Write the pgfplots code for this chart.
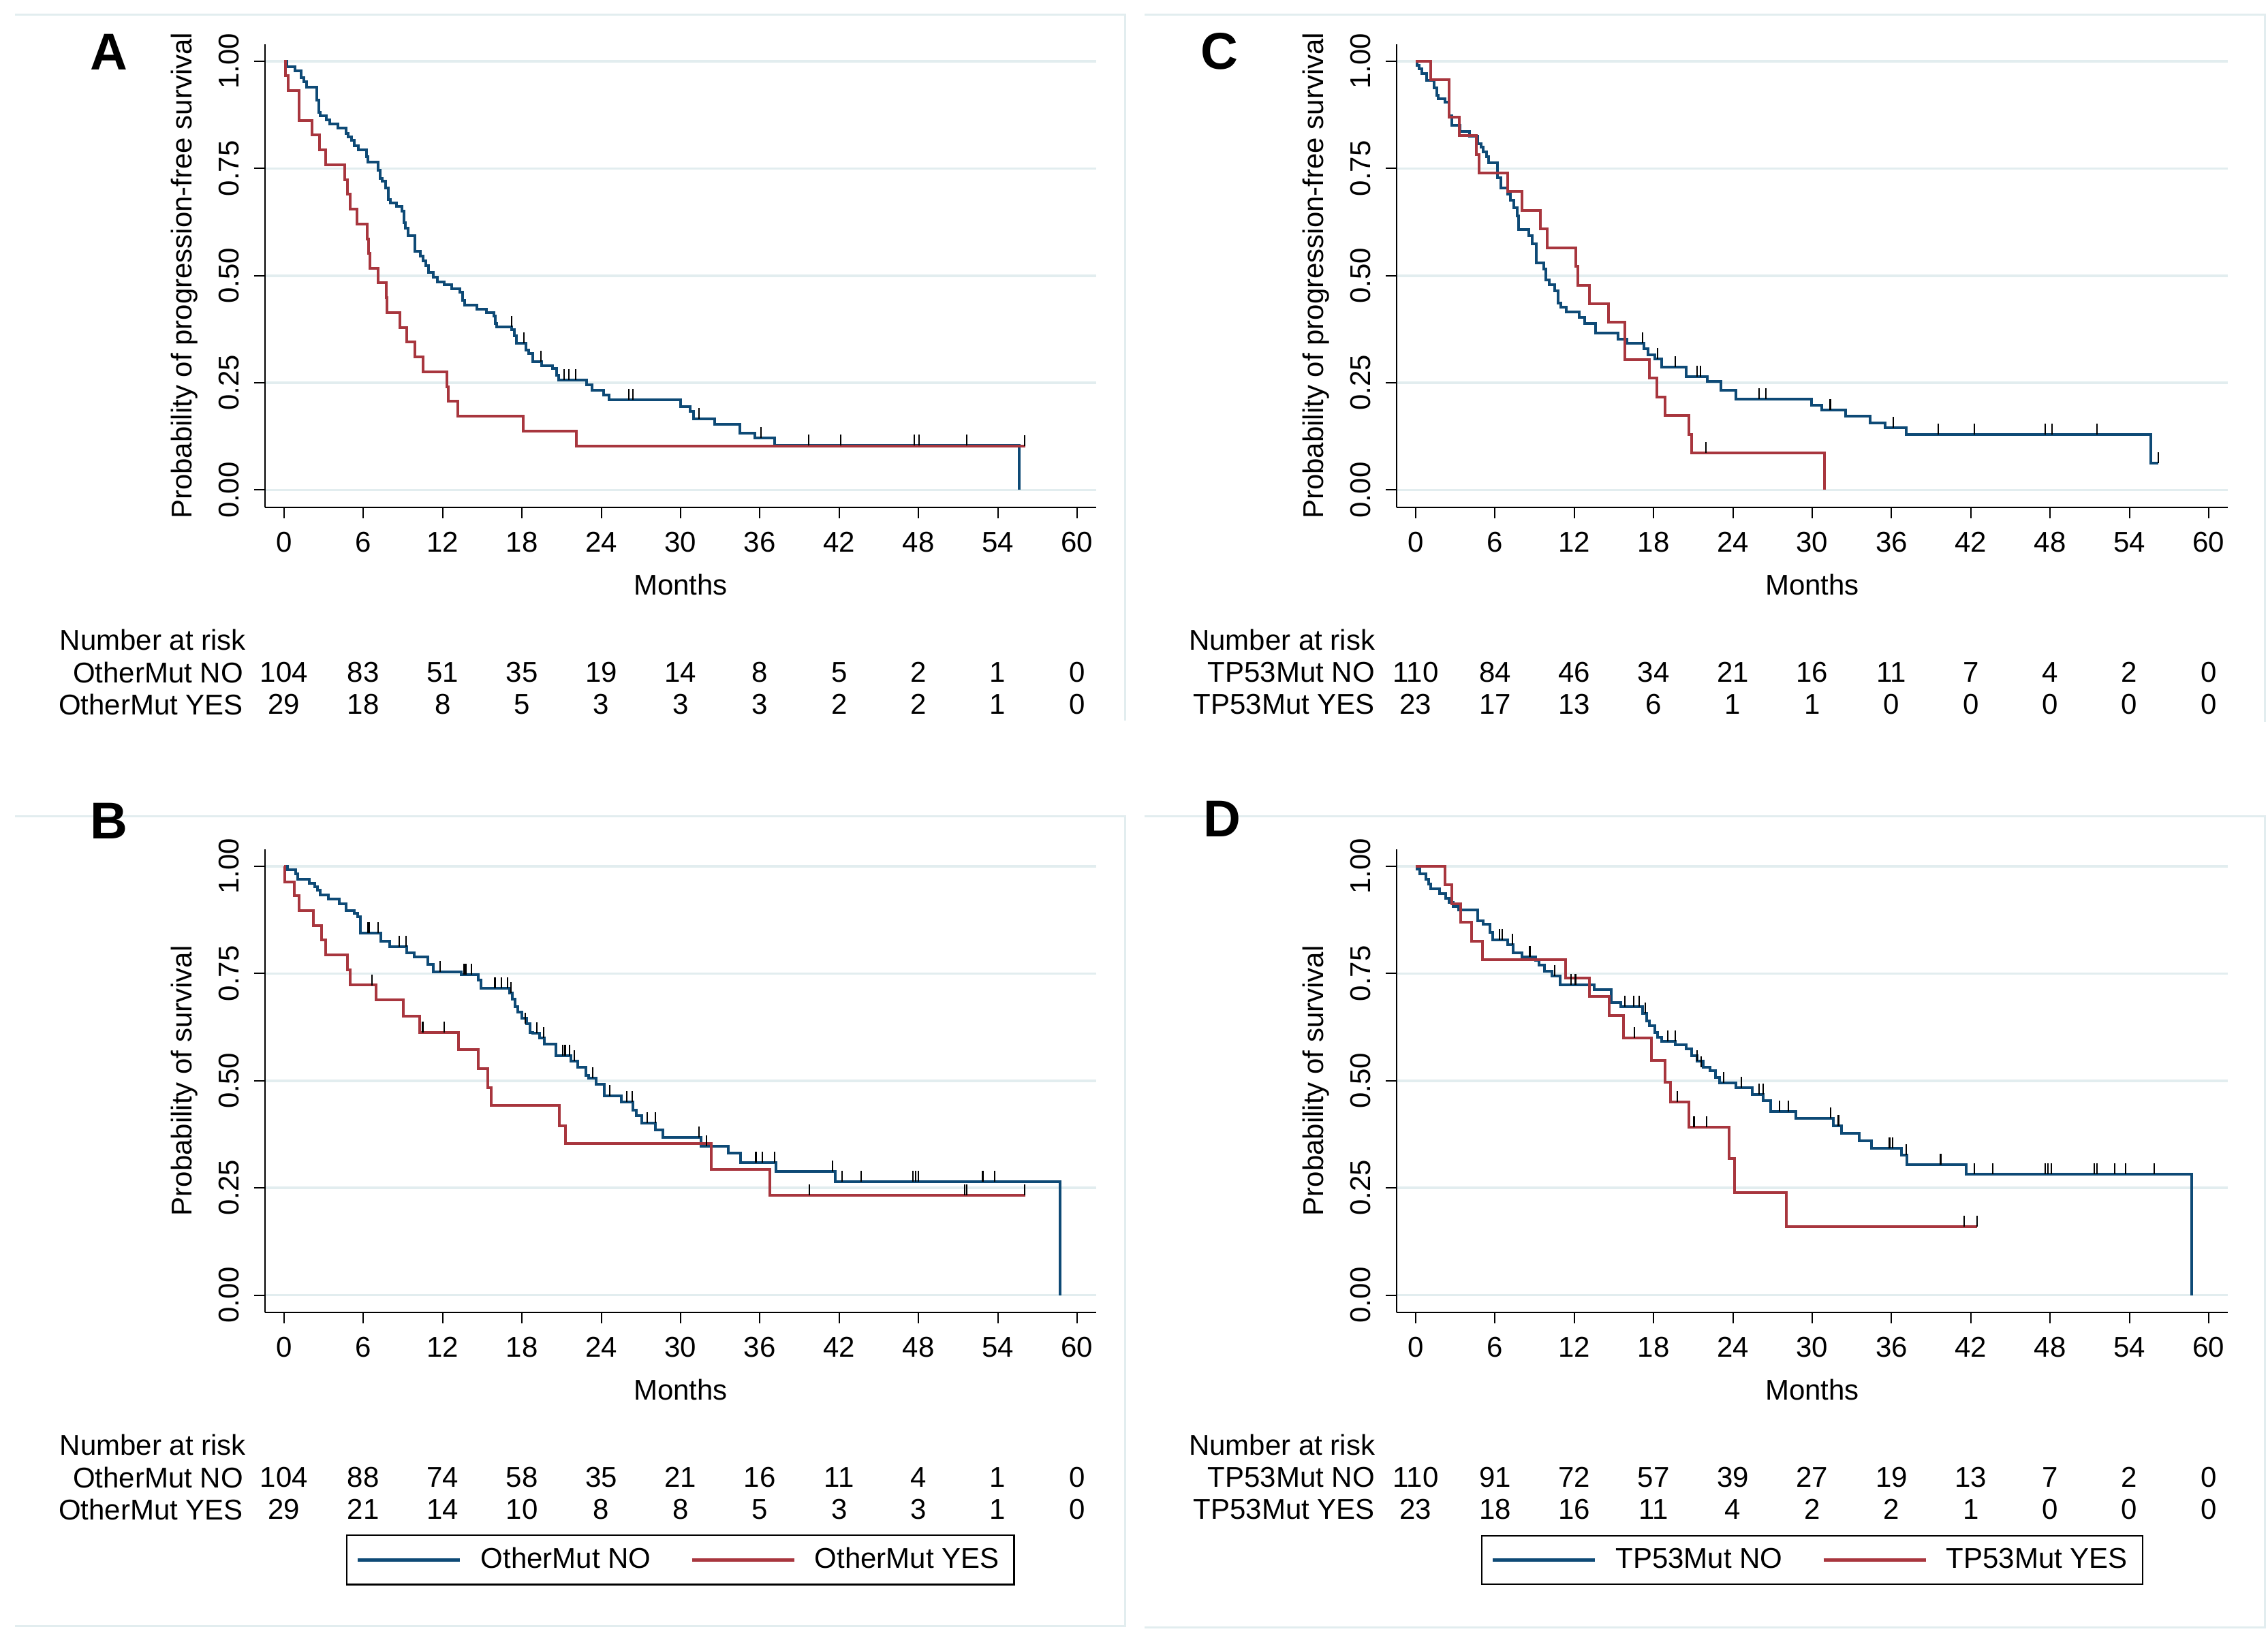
\documentclass[border=0pt]{standalone}
\usepackage{fontspec}
\setmainfont{Liberation Sans}
\usepackage{pgfplots}
\pgfplotsset{compat=1.18}

\definecolor{kmblue}{RGB}{14,74,118}
\definecolor{kmred}{RGB}{168,54,62}
\definecolor{gridc}{RGB}{226,237,239}

\newcommand\fz{\fontsize{10.5}{12.6}\selectfont}

% censoring tick: short vertical stroke going up from the curve
\pgfdeclareplotmark{cens}{%
  \pgfpathmoveto{\pgfpointorigin}%
  \pgfpathlineto{\pgfqpoint{0pt}{4pt}}%
  \pgfusepathqstroke}

\pgfplotsset{
  km/.style={
    scale only axis, width=304.97pt, height=169.97pt,
    anchor=south west,
    xmin=-1.44, xmax=61.44, ymin=-0.04, ymax=1.04,
    axis lines=left, axis line style={-, line width=0.55pt, black},
    xtick={0,6,12,18,24,30,36,42,48,54,60},
    xticklabels={0,6,12,18,24,30,36,42,48,54,60},
    ytick={0,0.25,0.5,0.75,1},
    yticklabels={0.00,0.25,0.50,0.75,1.00},
    tick align=outside, major tick length=4pt,
    tick style={black, line width=0.5pt},
    xticklabel style={font=\fz, anchor=north, yshift=-1.6pt},
    yticklabel style={font=\fz, xshift=-2.0pt, rotate=90, anchor=south},
    ymajorgrids, grid style={gridc, line width=0.9pt},
    every axis x label/.style={at={(axis description cs:0.5,0)}, yshift=-28.5pt, anchor=center, font=\fz},
    every axis y label/.style={at={(axis description cs:0,0.5)}, xshift=-29.6pt, rotate=90, anchor=center, font=\fz},
    xlabel={Months},
    clip=false,
    legend style={at={(0.5,-0.535)}, anchor=center, legend columns=2,
      draw=black, line width=0.6pt, font=\fz, inner xsep=3.5pt, inner ysep=2.5pt,
      /tikz/every odd column/.append style={column sep=5pt},
      /tikz/every even column/.append style={column sep=12.5pt}},
    legend image code/.code={\draw[#1, line width=1.1pt] (0pt,0pt) -- (37.5pt,0pt);},
  },
  blueline/.style={kmblue, line width=1pt, const plot},
  redline/.style={kmred, line width=1pt, const plot},
  cmark/.style={only marks, mark=cens, mark options={black, line width=0.55pt}, forget plot},
}

\newcommand\panel[1]{\node[font=\fontsize{19}{20}\selectfont\bfseries] at #1;}
% number at risk row: y, label, counts at 0,6,...,60
\newcommand\riskrow[3]{%
  \node[anchor=east, inner sep=0pt] at (axis cs:-3.05,#1) {#2};
  \foreach \v [count=\i from 0] in {#3} {%
    \edef\tmp{\noexpand\node at (axis cs:\the\numexpr6*\i\relax,#1) {\v};}\tmp}}

\begin{document}
\begin{tikzpicture}[font=\fz]
\useasboundingbox (0,0) rectangle (832.25pt,601.25pt);

% panel frames
\begin{scope}[gridc, line width=0.75pt]
\draw (5.5pt,595.75pt) -- (412.75pt,595.75pt) -- (412.75pt,336.75pt);
\draw (420pt,595.75pt) -- (831pt,595.75pt) -- (831pt,336.25pt);
\draw (5.5pt,301.5pt) -- (412.75pt,301.5pt) -- (412.75pt,4.25pt) -- (5.5pt,4.25pt);
\draw (420pt,301.5pt) -- (831pt,301.5pt) -- (831pt,3.75pt) -- (420pt,3.75pt);
\end{scope}

% ---------- A ----------
\begin{axis}[km, at={(97.25pt,415.075pt)}, ylabel={Probability of progression-free survival}]
\addplot[blueline] coordinates {
(0,1) (0.2,0.987) (0.83,0.977) (1.3,0.962) (1.5,0.953) (1.7,0.94) (2.5,0.909)
(2.65,0.881) (2.75,0.873) (3.2,0.863) (3.45,0.854) (4.1,0.845) (4.7,0.832)
(4.85,0.823) (5.1,0.816) (5.3,0.803) (5.6,0.794) (6.25,0.778) (6.35,0.765)
(7.1,0.745) (7.25,0.727) (7.4,0.72) (7.7,0.705) (7.9,0.677) (8.05,0.669)
(8.5,0.661) (8.9,0.65) (9.05,0.623) (9.2,0.61) (9.4,0.594) (9.9,0.556)
(10.3,0.546) (10.5,0.534) (10.7,0.523) (10.95,0.508) (11.3,0.497) (11.6,0.485)
(12.1,0.479) (12.7,0.47) (13.3,0.461) (13.5,0.443) (13.65,0.432) (14.6,0.421)
(15.3,0.414) (15.9,0.406) (16.0,0.388) (16.1,0.381) (17.2,0.374) (17.4,0.359)
(17.6,0.342) (18.3,0.326) (18.5,0.318) (18.8,0.299) (19.5,0.29) (20.3,0.283)
(20.6,0.268) (20.8,0.257) (22.9,0.246) (23.3,0.232) (24.2,0.221) (24.6,0.21)
(30.0,0.195) (30.7,0.184) (31.0,0.166) (32.6,0.153) (34.5,0.133) (35.6,0.122)
(37.1,0.104) (55.6,0)
};
\addplot[redline] coordinates {
(0,1) (0.1,0.966) (0.33,0.931) (1.16,0.862) (2.1,0.828) (2.7,0.793) (3.15,0.759)
(4.6,0.724) (4.8,0.690) (5.0,0.655) (5.5,0.621) (6.3,0.586) (6.4,0.552)
(6.5,0.517) (7.1,0.483) (7.76,0.448) (7.8,0.414) (8.75,0.379) (9.3,0.345)
(9.9,0.310) (10.5,0.276) (12.3,0.241) (12.45,0.207) (13.15,0.172) (18.1,0.138)
(22.1,0.103) (56.1,0.103)
};
\addplot[cmark] coordinates {
(17.2,0.381) (18.15,0.342) (19.45,0.299) (21.2,0.257) (21.55,0.257) (22.05,0.257)
(26.1,0.21) (26.4,0.21) (31.4,0.166) (36.1,0.122) (39.7,0.104) (42.1,0.104)
(47.7,0.104) (48.05,0.104) (51.65,0.104) (56.05,0.103)
};
\panel{(axis cs:-13.25,1.022) {A}}
\node[anchor=west, inner sep=0pt] at (axis cs:-17.0,-0.349) {Number at risk};
\riskrow{-0.425}{OtherMut NO}{104,83,51,35,19,14,8,5,2,1,0}
\riskrow{-0.5}{OtherMut YES}{29,18,8,5,3,3,3,2,2,1,0}
\end{axis}

% ---------- B ----------
\begin{axis}[km, at={(97.25pt,119.575pt)}, ylabel={Probability of survival}]
\addplot[blueline] coordinates {
(0,1) (0.25,0.992) (0.87,0.983) (1.04,0.969) (1.91,0.961) (2.32,0.952)
(2.53,0.945) (2.74,0.934) (3.36,0.924) (4.19,0.912) (4.68,0.897) (5.31,0.89)
(5.55,0.883) (5.76,0.844) (7.3,0.826) (8.0,0.813) (9.29,0.799) (9.87,0.788)
(10.86,0.771) (11.28,0.754) (13.43,0.748) (14.68,0.735) (14.88,0.715)
(17.08,0.704) (17.25,0.69) (17.5,0.672) (17.66,0.66) (18.0,0.646) (18.33,0.633)
(18.62,0.613) (18.82,0.61) (19.32,0.599) (19.69,0.585) (20.56,0.559)
(21.68,0.546) (22.22,0.531) (22.84,0.512) (23.05,0.506) (23.59,0.492)
(24.21,0.464) (25.54,0.45) (26.37,0.431) (26.66,0.419) (27.07,0.401)
(28.11,0.386) (28.65,0.367) (31.55,0.347) (33.62,0.331) (34.54,0.309)
(37.23,0.289) (41.71,0.264) (58.7,0)
};
\addlegendentry{OtherMut NO}
\addplot[redline] coordinates {
(0,1) (0.04,0.964) (0.79,0.931) (1.16,0.897) (2.24,0.862) (2.86,0.828)
(3.15,0.793) (4.8,0.759) (5.0,0.724) (6.97,0.689) (9.04,0.651) (10.28,0.612)
(13.18,0.573) (14.68,0.528) (15.42,0.484) (15.67,0.442) (20.81,0.395)
(21.27,0.353) (32.3,0.293) (36.77,0.233) (56.1,0.233)
};
\addlegendentry{OtherMut YES}
\addplot[cmark] coordinates {
(6.34,0.844) (6.43,0.844) (7.13,0.844) (8.71,0.813) (9.25,0.813) (11.82,0.754)
(13.64,0.748) (13.76,0.748) (14.18,0.748) (15.96,0.715) (16.46,0.715)
(16.92,0.715) (17.16,0.704) (18.24,0.633) (19.11,0.61) (19.65,0.599)
(21.1,0.559) (21.27,0.559) (21.6,0.559) (21.97,0.546) (23.34,0.506)
(24.63,0.464) (25.95,0.45) (26.33,0.45) (27.49,0.401) (28.1,0.401)
(31.38,0.367) (31.97,0.347) (35.7,0.309) (36.19,0.309) (37.1,0.309)
(41.5,0.289) (42.2,0.264) (43.66,0.264) (47.6,0.264) (47.8,0.264) (48.0,0.264)
(52.86,0.264) (53.77,0.264)
(6.67,0.722) (10.49,0.612) (12.1,0.612) (39.76,0.233) (51.5,0.233)
(51.66,0.233) (56.05,0.233)
};
\panel{(axis cs:-13.25,1.106) {B}}
\node[anchor=west, inner sep=0pt] at (axis cs:-17.0,-0.349) {Number at risk};
\riskrow{-0.425}{OtherMut NO}{104,88,74,58,35,21,16,11,4,1,0}
\riskrow{-0.5}{OtherMut YES}{29,21,14,10,8,8,5,3,3,1,0}
\end{axis}

% ---------- C ----------
\begin{axis}[km, at={(512.5pt,415.075pt)}, ylabel={Probability of progression-free survival}]
\addplot[blueline] coordinates {
(0,1) (0.08,0.991) (0.25,0.982) (0.46,0.971) (0.83,0.956) (1.37,0.938)
(1.58,0.92) (1.7,0.913) (2.2,0.905) (2.53,0.873) (2.74,0.851) (3.36,0.836)
(4.07,0.825) (4.7,0.807) (4.94,0.8) (5.11,0.789) (5.36,0.778) (5.53,0.763)
(6.19,0.728) (6.44,0.705) (6.98,0.69) (7.19,0.676) (7.4,0.658) (7.69,0.64)
(7.81,0.607) (8.56,0.594) (8.81,0.574) (9.1,0.53) (9.68,0.516) (9.85,0.49)
(10.1,0.479) (10.5,0.465) (10.76,0.436) (11.0,0.426) (11.38,0.416)
(12.38,0.403) (12.8,0.388) (13.63,0.366) (15.33,0.352) (16.0,0.342)
(17.25,0.33) (17.58,0.316) (18.08,0.305) (18.62,0.286) (20.49,0.264)
(22.07,0.253) (23.07,0.232) (24.23,0.212) (29.95,0.197) (30.74,0.186)
(32.53,0.173) (34.4,0.157) (35.52,0.146) (37.1,0.13) (55.6,0.063) (56.2,0.063)
};
\addplot[redline] coordinates {
(0,1) (1.12,0.957) (2.53,0.870) (3.32,0.826) (4.57,0.783) (4.78,0.739)
(6.98,0.696) (8.02,0.652) (9.43,0.609) (9.93,0.565) (12.13,0.522)
(12.26,0.478) (13.17,0.435) (14.58,0.391) (15.83,0.304) (17.7,0.261)
(18.24,0.217) (18.86,0.174) (20.69,0.130) (20.86,0.087) (30.91,0)
};
\addplot[cmark] coordinates {
(17.16,0.342) (18.32,0.305) (19.65,0.286) (21.3,0.264) (21.56,0.264)
(26.0,0.212) (26.5,0.212) (31.37,0.186) (36.14,0.146) (39.55,0.13)
(42.25,0.13) (47.65,0.13) (48.15,0.13) (51.56,0.13) (56.17,0.063)
(21.98,0.087)
};
\panel{(axis cs:-14.86,1.024) {C}}
\node[anchor=west, inner sep=0pt] at (axis cs:-17.2,-0.349) {Number at risk};
\riskrow{-0.425}{TP53Mut NO}{110,84,46,34,21,16,11,7,4,2,0}
\riskrow{-0.5}{TP53Mut YES}{23,17,13,6,1,1,0,0,0,0,0}
\end{axis}

% ---------- D ----------
\begin{axis}[km, at={(512.5pt,119.575pt)}, ylabel={Probability of survival}]
\addplot[blueline] coordinates {
(0,1) (0.12,0.993) (0.33,0.983) (0.75,0.97) (0.96,0.959) (1.16,0.947)
(1.79,0.937) (2.28,0.926) (2.53,0.916) (2.82,0.907) (3.24,0.899) (4.69,0.873)
(5.11,0.865) (5.61,0.846) (5.82,0.828) (6.98,0.817) (7.35,0.799) (8.02,0.788)
(9.06,0.78) (9.35,0.77) (9.76,0.756) (10.3,0.745) (10.93,0.723) (13.5,0.712)
(14.79,0.683) (15.5,0.672) (17.16,0.657) (17.49,0.639) (17.66,0.628)
(18.07,0.613) (18.32,0.602) (18.61,0.591) (19.65,0.583) (20.48,0.575)
(20.9,0.559) (21.31,0.545) (21.73,0.531) (22.27,0.523) (22.69,0.508)
(22.97,0.495) (24.22,0.484) (25.47,0.468) (26.3,0.454) (26.84,0.428)
(28.79,0.413) (31.6,0.395) (32.24,0.378) (33.57,0.36) (34.48,0.342)
(36.77,0.326) (37.18,0.304) (41.67,0.282) (58.7,0)
};
\addlegendentry{TP53Mut NO}
\addplot[redline] coordinates {
(0,1) (2.2,0.957) (2.74,0.913) (3.41,0.870) (4.24,0.826) (5.07,0.783)
(11.34,0.739) (13.17,0.696) (14.66,0.652) (15.7,0.600) (17.82,0.548)
(18.86,0.496) (19.28,0.450) (20.69,0.391) (23.72,0.318) (24.14,0.239)
(28.04,0.159) (42.5,0.159)
};
\addlegendentry{TP53Mut YES}
\addplot[cmark] coordinates {
(6.36,0.828) (6.56,0.828) (7.31,0.817) (8.64,0.788) (10.51,0.745)
(11.76,0.723) (12.09,0.723) (15.83,0.672) (16.49,0.672) (16.91,0.672)
(17.37,0.657) (19.07,0.591) (19.65,0.591) (21.31,0.545) (21.6,0.531)
(23.31,0.495) (24.64,0.484) (26.0,0.468) (26.3,0.468) (27.54,0.428)
(28.2,0.428) (31.4,0.413) (31.99,0.395) (35.85,0.342) (36.1,0.342)
(37.1,0.326) (39.72,0.304) (42.25,0.282) (43.66,0.282) (47.65,0.282)
(47.82,0.282) (48.11,0.282) (51.35,0.282) (51.56,0.282) (52.89,0.282)
(53.72,0.282) (55.88,0.282)
(16.53,0.600) (19.78,0.450) (21.06,0.391) (22.02,0.391) (41.5,0.159)
(42.46,0.159)
};
\panel{(axis cs:-14.65,1.11) {D}}
\node[anchor=west, inner sep=0pt] at (axis cs:-17.2,-0.349) {Number at risk};
\riskrow{-0.425}{TP53Mut NO}{110,91,72,57,39,27,19,13,7,2,0}
\riskrow{-0.5}{TP53Mut YES}{23,18,16,11,4,2,2,1,0,0,0}
\end{axis}
\end{tikzpicture}
\end{document}
